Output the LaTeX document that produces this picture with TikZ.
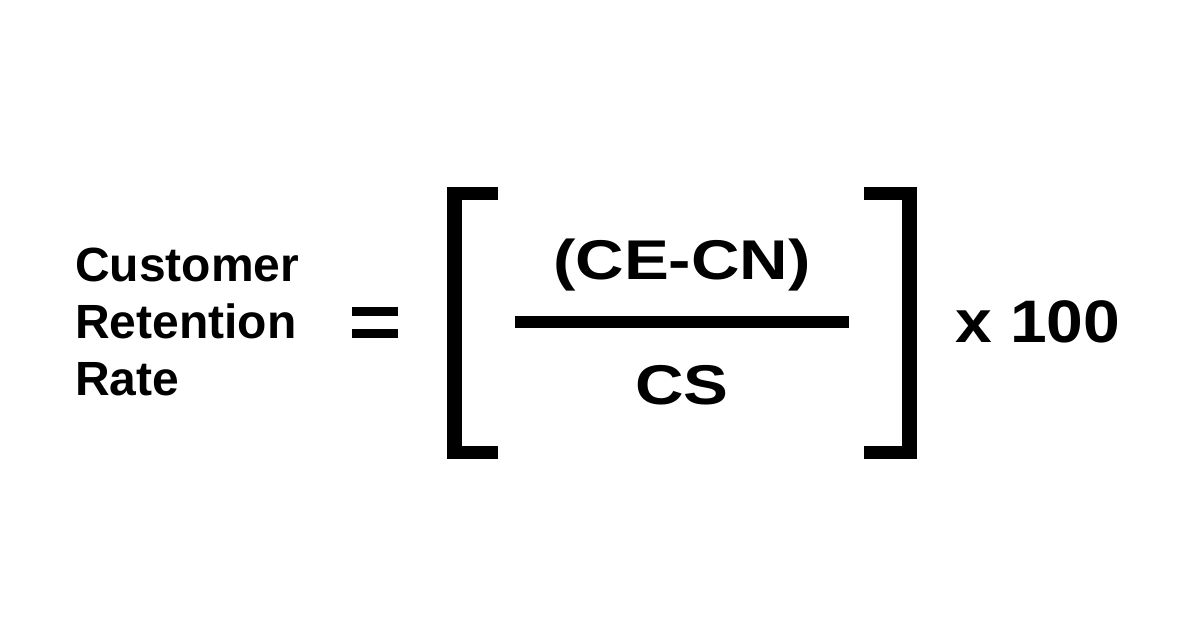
\documentclass[tikz,border=0pt]{standalone}
\usepackage{fontspec}
\setmainfont{Liberation Sans}
\begin{document}
\begin{tikzpicture}[x=1pt,y=-1pt,
  bar/.style={fill=black},
  lbl/.style={font=\bfseries\fontsize{48}{57}\selectfont, align=left, inner sep=0},
  big/.style={font=\bfseries\fontsize{56}{60}\selectfont, inner sep=0, xscale=1.2, transform shape}]
\useasboundingbox (0,0) rectangle (1200,630);
\node[lbl, anchor=west] (label) at (75,322) {Customer\\Retention\\Rate};
\fill[bar] (352,307) rectangle (398,316);
\fill[bar] (352,329) rectangle (398,338);
\fill[bar] (447,187) rectangle (462,459);
\fill[bar] (447,187) rectangle (498,200);
\fill[bar] (447,446) rectangle (498,459);
\fill[bar] (902,187) rectangle (917,459);
\fill[bar] (864,187) rectangle (917,200);
\fill[bar] (864,446) rectangle (917,459);
\fill[bar] (515,316) rectangle (849,328);
\node[big] (num) at (682,265) {(CE-CN)};
\node[big] (den) at (682,385) {CS};
\node[font=\bfseries\fontsize{60}{64}\selectfont, inner sep=0, anchor=west, xscale=1.1, transform shape] (mult) at (955,322) {x 100};
\end{tikzpicture}
\end{document}
